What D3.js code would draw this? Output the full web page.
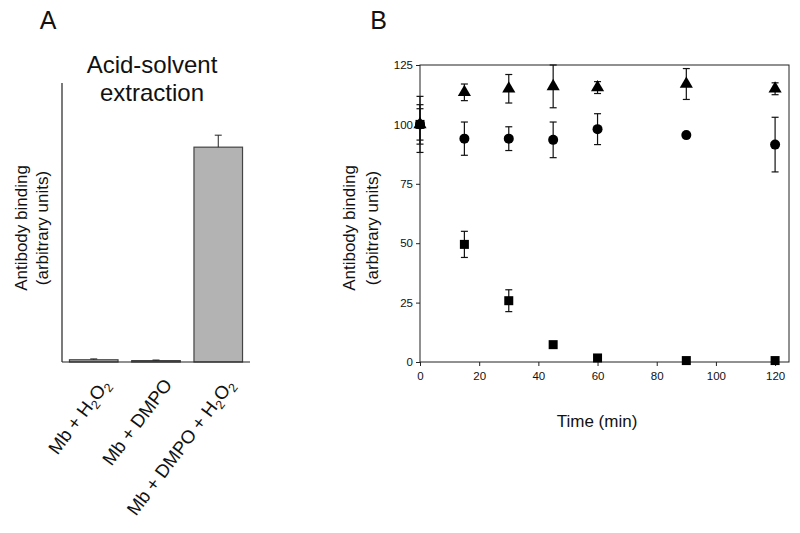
<!DOCTYPE html>
<html><head><meta charset="utf-8">
<script src="https://cdn.jsdelivr.net/npm/d3@7"></script>
<style>body{margin:0;background:#fff}svg{display:block;font-family:"Liberation Sans",Arial,sans-serif}text{fill:#111}</style>
</head><body><svg id="c" width="800" height="533"></svg>
<script>
// Panel A data
const barCategories = ["Mb + H2O2", "Mb + DMPO", "Mb + DMPO + H2O2"];
const barValues = [0.8, 0.5, 77];
const barErrors = [0.3, 0.2, 4.3];
// Panel B data
const times = [0, 15, 30, 45, 60, 90, 120];
const triangleValues = [100, 113.5, 115, 116, 115.5, 117, 115];
const triangleErrors = [11.8, 3.5, 6, 9, 2.5, 6.5, 2.5];
const circleValues = [100, 94, 94, 93.5, 98, 95.5, 91.5];
const circleErrors = [8.3, 7, 5, 7.5, 6.5, 0, 11.5];
const squareValues = [100, 49.5, 25.8, 7.3, 1.7, 0.6, 0.6];
const squareErrors = [6.6, 5.5, 4.6, 0, 0, 0, 0];
const xTicks = [0, 20, 40, 60, 80, 100, 120];
const yTicks = [0, 25, 50, 75, 100, 125];

const svg = d3.select("#c");
const font = "'Liberation Sans',Arial,sans-serif";

// ---------- Panel A ----------
svg.append("text").attr("x", 48).attr("y", 29).attr("text-anchor","middle").attr("font-size", 25).text("A");
svg.append("text").attr("x", 152).attr("y", 73).attr("text-anchor","middle").attr("font-size", 24).text("Acid-solvent");
svg.append("text").attr("x", 152).attr("y", 101).attr("text-anchor","middle").attr("font-size", 24).text("extraction");

const xA = d3.scaleBand().domain(barCategories).range([62, 250]).paddingInner(0.22).paddingOuter(0.12);
const yA = d3.scaleLinear().domain([0, 100]).range([362, 83]);
const gA = svg.append("g");
gA.selectAll("rect.bar").data(barCategories).join("rect")
  .attr("x", d => xA(d)).attr("width", xA.bandwidth())
  .attr("y", (d,i) => yA(barValues[i])).attr("height", (d,i) => yA(0) - yA(barValues[i]))
  .attr("fill", "#b3b3b3").attr("stroke", "#444").attr("stroke-width", 1.2);
gA.selectAll("g.err").data(barCategories).join("g").each(function(d,i){
  const cx = xA(d) + xA.bandwidth()/2, top = yA(barValues[i] + barErrors[i]);
  const g = d3.select(this);
  g.append("line").attr("x1",cx).attr("x2",cx).attr("y1",yA(barValues[i])).attr("y2",top).attr("stroke","#222");
  g.append("line").attr("x1",cx-3.5).attr("x2",cx+3.5).attr("y1",top).attr("y2",top).attr("stroke","#222");
});
gA.append("line").attr("x1",62).attr("x2",62).attr("y1",83).attr("y2",362).attr("stroke","#222").attr("stroke-width",1.2);
gA.append("line").attr("x1",62).attr("x2",250).attr("y1",362).attr("y2",362).attr("stroke","#222").attr("stroke-width",1.2);
const labA = svg.append("text").attr("transform","translate(27,228) rotate(-90)").attr("text-anchor","middle").attr("font-size",17);
labA.append("tspan").attr("x",0).attr("dy",0).text("Antibody binding");
labA.append("tspan").attr("x",0).attr("dy",21).text("(arbitrary units)");

function catLabel(sel, s){
  const parts = s.split(/(H2O2)/);
  parts.forEach(p=>{
    if(p==="H2O2"){
      sel.append("tspan").attr("fill","#111").text("H");
      sel.append("tspan").attr("fill","#111").attr("font-size",12.5).attr("dy",4).text("2");
      sel.append("tspan").attr("fill","#111").attr("dy",-4).text("O");
      sel.append("tspan").attr("fill","#111").attr("font-size",12.5).attr("dy",4).text("2");
    } else if(p.length) sel.append("tspan").attr("fill","#111").text(p);
  });
}
barCategories.forEach((c,i)=>{
  const cx = xA(c) + xA.bandwidth()/2 + 17;
  const t = svg.append("text").attr("transform",`translate(${cx},385) rotate(-53)`).attr("text-anchor","end").attr("font-size",18.5).attr("fill","#111");
  catLabel(t, c);
});

// ---------- Panel B ----------
svg.append("text").attr("x", 378.5).attr("y", 29).attr("text-anchor","middle").attr("font-size", 25).text("B");
const x = d3.scaleLinear().domain([0, 124.7]).range([420, 789]);
const y = d3.scaleLinear().domain([0, 125]).range([362, 65]);
const gB = svg.append("g");
gB.append("rect").attr("x",420).attr("y",65).attr("width",369).attr("height",297).attr("fill","none").attr("stroke","#222").attr("stroke-width",1);
gB.append("g").attr("transform","translate(0,362)")
  .call(d3.axisBottom(x).tickValues(xTicks).tickSize(4).tickSizeOuter(0))
  .call(g=>{g.select(".domain").remove(); g.selectAll("text").attr("font-size",11.5).attr("font-family",font).attr("fill","#222").attr("dy","0.95em");g.selectAll("line").attr("stroke","#222");});
gB.append("g").attr("transform","translate(420,0)")
  .call(d3.axisLeft(y).tickValues(yTicks).tickSize(4).tickSizeOuter(0))
  .call(g=>{g.select(".domain").remove(); g.selectAll("text").attr("font-size",11.5).attr("font-family",font).attr("fill","#222");g.selectAll("line").attr("stroke","#222");});

function errBars(vals, errs){
  times.forEach((t,i)=>{
    if(!errs[i]) return;
    const cx = x(t), y1 = y(Math.min(125, vals[i]+errs[i])), y2 = y(vals[i]-errs[i]);
    gB.append("line").attr("x1",cx).attr("x2",cx).attr("y1",y1).attr("y2",y2).attr("stroke","#111").attr("stroke-width",1.2);
    gB.append("line").attr("x1",cx-3.5).attr("x2",cx+3.5).attr("y1",y1).attr("y2",y1).attr("stroke","#111").attr("stroke-width",1.2);
    gB.append("line").attr("x1",cx-3.5).attr("x2",cx+3.5).attr("y1",y2).attr("y2",y2).attr("stroke","#111").attr("stroke-width",1.2);
  });
}
errBars(triangleValues, triangleErrors);
errBars(circleValues, circleErrors);
errBars(squareValues, squareErrors);

const sym = (type, size) => d3.symbol().type(type).size(size)();
gB.selectAll("path.tri").data(times).join("path").attr("class","tri")
  .attr("transform",(t,i)=>`translate(${x(t)},${y(triangleValues[i])})`).attr("d", sym(d3.symbolTriangle, 75)).attr("fill","#000");
gB.selectAll("circle.cir").data(times).join("circle")
  .attr("cx",t=>x(t)).attr("cy",(t,i)=>y(circleValues[i])).attr("r",5).attr("fill","#000");
gB.selectAll("rect.sq").data(times).join("rect")
  .attr("x",t=>x(t)-4.5).attr("y",(t,i)=>y(squareValues[i])-4.5).attr("width",9).attr("height",9).attr("fill","#000");

const labB = svg.append("text").attr("transform","translate(355,228) rotate(-90)").attr("text-anchor","middle").attr("font-size",17);
labB.append("tspan").attr("x",0).attr("dy",0).text("Antibody binding");
labB.append("tspan").attr("x",0).attr("dy",23).text("(arbitrary units)");
svg.append("text").attr("x",597).attr("y",427).attr("text-anchor","middle").attr("font-size",17).text("Time (min)");
</script></body></html>
